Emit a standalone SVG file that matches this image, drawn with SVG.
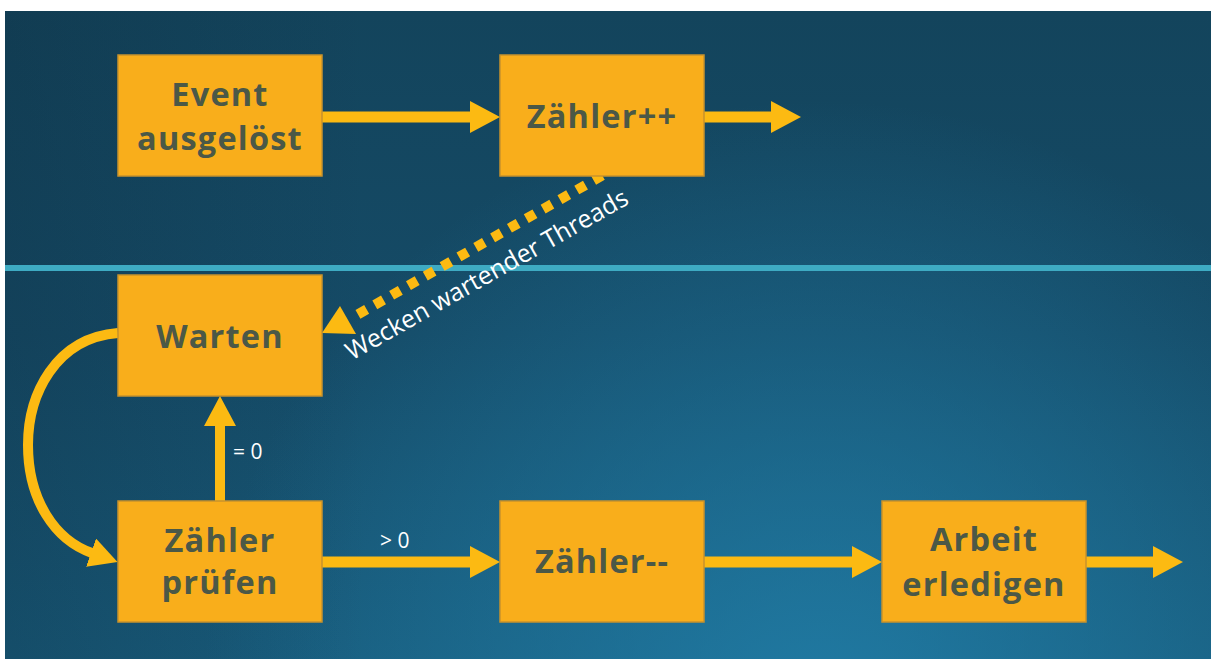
<svg xmlns="http://www.w3.org/2000/svg" width="1211" height="659" viewBox="0 0 1211 659">
  <defs>
    <linearGradient id="bgV" x1="0" y1="0" x2="0" y2="1">
      <stop offset="0" stop-color="#13445c"/>
      <stop offset="0.5" stop-color="#154b67"/>
      <stop offset="1" stop-color="#185b7b"/>
    </linearGradient>
    <radialGradient id="bgR" cx="820" cy="720" r="620" gradientUnits="userSpaceOnUse">
      <stop offset="0" stop-color="#2282ad" stop-opacity="0.8"/>
      <stop offset="1" stop-color="#2282ad" stop-opacity="0"/>
    </radialGradient>
    <linearGradient id="bgH" x1="0" y1="0" x2="1" y2="0">
      <stop offset="0" stop-color="#0c2535" stop-opacity="0.25"/>
      <stop offset="0.3" stop-color="#0c2535" stop-opacity="0"/>
    </linearGradient>
    <marker id="ah" markerUnits="userSpaceOnUse" markerWidth="30" markerHeight="32" refX="1" refY="16" orient="auto" viewBox="0 0 30 32">
      <path d="M0,0 L30,16 L0,32 z" fill="#fcba12"/>
    </marker>
    <marker id="ahc" markerUnits="userSpaceOnUse" markerWidth="28" markerHeight="30" refX="1" refY="15" orient="auto" viewBox="0 0 28 30">
      <path d="M0,0 L28,15 L0,30 z" fill="#fcba12"/>
    </marker>
  </defs>
  <style>
    .box { fill: #f9ae1b; stroke: #c8922c; stroke-width: 1.5; }
    .lbl { font-family: "Open Sans", "Lato", sans-serif; font-weight: bold; font-size: 32.5px; fill: #4b5847; text-anchor: middle; letter-spacing: 1.2px; }
    .conn { fill: none; stroke: #fcba12; stroke-width: 11; }
    .small { font-family: "Open Sans", "Lato", sans-serif; font-size: 21px; fill: #ffffff; }
  </style>

  <rect x="0" y="0" width="1211" height="659" fill="#ffffff"/>
  <rect x="5" y="11" width="1206" height="648" fill="url(#bgV)"/>
  <rect x="5" y="11" width="1206" height="648" fill="url(#bgR)"/>
  <rect x="5" y="11" width="1206" height="648" fill="url(#bgH)"/>

  <rect x="5" y="265" width="1206" height="6" fill="#3eabc3"/>

  <g id="connectors">
    <line class="conn" x1="322" y1="117" x2="471" y2="117" marker-end="url(#ah)"/>
    <line class="conn" x1="704" y1="117" x2="772" y2="117" marker-end="url(#ah)"/>
    <line class="conn" x1="322" y1="562" x2="471" y2="562" marker-end="url(#ah)"/>
    <line class="conn" x1="704" y1="562" x2="853" y2="562" marker-end="url(#ah)"/>
    <line class="conn" x1="1086" y1="562" x2="1154" y2="562" marker-end="url(#ah)"/>
    <line class="conn" x1="220" y1="501" x2="220" y2="425" style="stroke-width:10" marker-end="url(#ah)"/>
    <path class="conn" d="M118,333 C 55,338 28,395 28,445 C 28,500 55,540 92,553" style="stroke-width:10" marker-end="url(#ahc)"/>
    <path d="M602.3,175.5 L357.7,314.5" fill="none" stroke="#fcba12" stroke-width="10" stroke-dasharray="10 9.36"/>
    <polygon points="322,333 340,306 356,334" fill="#fcba12"/>
    <text class="small" x="233" y="459">= 0</text>
    <text class="small" x="380" y="548">&gt; 0</text>
    <text class="small" transform="translate(491,282) rotate(-29.5)" text-anchor="middle" style="font-size:25px" textLength="320" lengthAdjust="spacingAndGlyphs">Wecken wartender Threads</text>
  </g>

  <g id="event">
    <rect class="box" x="118" y="55" width="204" height="121"/>
    <text class="lbl" x="220" y="106">Event</text>
    <text class="lbl" x="220" y="150">ausgelöst</text>
  </g>
  <g id="zaehler-inc">
    <rect class="box" x="500" y="55" width="204" height="121"/>
    <text class="lbl" x="602" y="128">Zähler++</text>
  </g>
  <g id="warten">
    <rect class="box" x="118" y="275" width="204" height="121"/>
    <text class="lbl" x="220" y="348">Warten</text>
  </g>
  <g id="zaehler-pruefen">
    <rect class="box" x="118" y="501" width="204" height="121"/>
    <text class="lbl" x="220" y="552">Zähler</text>
    <text class="lbl" x="220" y="594">prüfen</text>
  </g>
  <g id="zaehler-dec">
    <rect class="box" x="500" y="501" width="204" height="121"/>
    <text class="lbl" x="602" y="573">Zähler--</text>
  </g>
  <g id="arbeit">
    <rect class="box" x="882" y="501" width="204" height="121"/>
    <text class="lbl" x="984" y="551">Arbeit</text>
    <text class="lbl" x="984" y="596">erledigen</text>
  </g>
</svg>
